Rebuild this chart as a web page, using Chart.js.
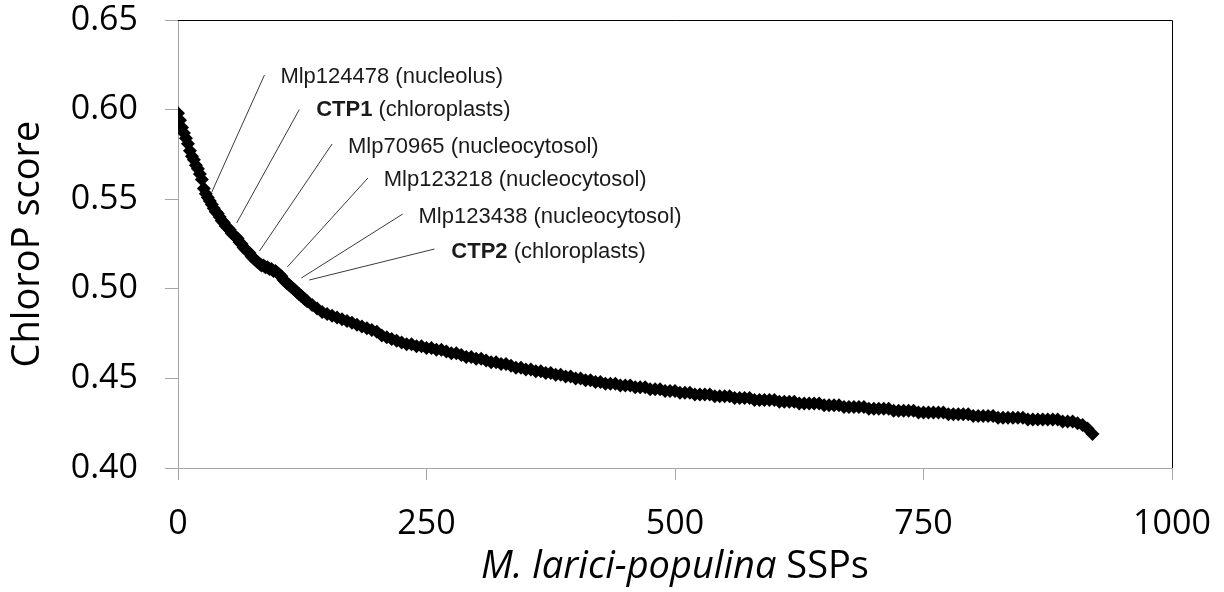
<!DOCTYPE html>
<html lang="en">
<head>
  <meta charset="UTF-8">
  <title>ChloroP score</title>
  <script src="https://cdn.jsdelivr.net/npm/chart.js"></script>
  <style>
    html, body { margin: 0; padding: 0; background: #fff; }
  </style>
</head>
<body>
  <canvas id="scoreChart" width="1224" height="592"></canvas>

  <script>
    // the steep head of the curve is read every 2 ranks, the rest every 5 ranks
    const earlyStep = 2;
    const earlyScores = [
      0.598, 0.594, 0.590, 0.587, 0.584, 0.581, 0.577, 0.574, 0.572, 0.569, 0.567, 0.564, 0.561, 0.556, 0.553, 0.551, 0.549, 0.547, 0.545, 0.543,
      0.542, 0.540, 0.538, 0.537, 0.535, 0.534, 0.533, 0.531, 0.530, 0.529, 0.528, 0.526, 0.525, 0.523, 0.522, 0.521, 0.520, 0.518, 0.517, 0.516,
      0.515, 0.514, 0.513, 0.513, 0.512, 0.512, 0.511, 0.511, 0.510, 0.510, 0.509, 0.508, 0.507, 0.505, 0.504, 0.503, 0.502, 0.501, 0.500, 0.499,
      0.498, 0.497, 0.496, 0.495, 0.494, 0.493
    ];
    const laterStart = 135;
    const laterStep = 5;
    const laterScores = [
      0.491, 0.489, 0.487, 0.486, 0.485, 0.484, 0.483, 0.482, 0.481, 0.480, 0.479, 0.478, 0.477,
      0.476, 0.474, 0.473, 0.472, 0.471, 0.470, 0.469, 0.469, 0.468, 0.468, 0.467, 0.467, 0.466, 0.466, 0.465, 0.464, 0.464, 0.463, 0.462, 0.462,
      0.461, 0.461, 0.460, 0.459, 0.459, 0.458, 0.458, 0.457, 0.456, 0.456, 0.455, 0.455, 0.454, 0.454, 0.453, 0.453, 0.452, 0.452, 0.451, 0.451,
      0.450, 0.450, 0.449, 0.449, 0.448, 0.448, 0.447, 0.447, 0.447, 0.446, 0.446, 0.446, 0.445, 0.445, 0.445, 0.444, 0.444, 0.444, 0.443, 0.443,
      0.443, 0.442, 0.442, 0.442, 0.441, 0.441, 0.441, 0.441, 0.440, 0.440, 0.440, 0.440, 0.439, 0.439, 0.439, 0.439, 0.438, 0.438, 0.438, 0.438,
      0.438, 0.437, 0.437, 0.437, 0.437, 0.436, 0.436, 0.436, 0.436, 0.436, 0.435, 0.435, 0.435, 0.435, 0.434, 0.434, 0.434, 0.434, 0.434, 0.433,
      0.433, 0.433, 0.433, 0.433, 0.432, 0.432, 0.432, 0.432, 0.432, 0.431, 0.431, 0.431, 0.431, 0.431, 0.431, 0.430, 0.430, 0.430, 0.430, 0.430,
      0.429, 0.429, 0.429, 0.429, 0.429, 0.428, 0.428, 0.428, 0.428, 0.428, 0.428, 0.427, 0.427, 0.427, 0.427, 0.427, 0.427, 0.427, 0.426, 0.426,
      0.426, 0.425, 0.424, 0.422, 0.419
    ];

    const xTitleItalic = 'M. larici-populina';
    const xTitleRest = ' SSPs';
    const yTitle = 'ChloroP score';

    // callout labels: bold name, plain location
    const calloutNames = ['Mlp124478', 'CTP1', 'Mlp70965', 'Mlp123218', 'Mlp123438', 'CTP2'];
    const calloutBold = [false, true, false, false, false, true];
    const calloutLocs = ['(nucleolus)', '(chloroplasts)', '(nucleocytosol)', '(nucleocytosol)', '(nucleocytosol)', '(chloroplasts)'];
    // where each leader line touches the curve, where it ends, and where text starts (data units)
    const calloutPos = [
      { at: [34, 0.554],  end: [87, 0.6193],  text: [103, 0.6182] },
      { at: [59, 0.5367], end: [122, 0.600],  text: [139, 0.600] },
      { at: [82, 0.5211], end: [155, 0.5808], text: [171, 0.5791] },
      { at: [110, 0.5122], end: [191, 0.5618], text: [207, 0.5607] },
      { at: [124, 0.506], end: [226, 0.5417], text: [242, 0.5401] },
      { at: [132, 0.5049], end: [258, 0.5222], text: [275, 0.5205] }
    ];

    const points = earlyScores.map((s, i) => ({ x: i * earlyStep, y: s }))
      .concat(laterScores.map((s, i) => ({ x: laterStart + i * laterStep, y: s })));

    const axisGray = '#a6a6a6';
    const tickFont = { family: 'Open Sans', size: 34, lineHeight: 1 };

    const framePlugin = {
      id: 'frame',
      beforeDatasetsDraw(chart) {
        const { ctx, chartArea: a } = chart;
        ctx.save();
        ctx.strokeStyle = '#000';
        ctx.lineWidth = 1;
        ctx.beginPath();
        ctx.moveTo(a.left, a.top + 0.5);
        ctx.lineTo(a.right + 0.5, a.top + 0.5);
        ctx.lineTo(a.right + 0.5, a.bottom);
        ctx.stroke();
        ctx.restore();
      }
    };

    const calloutPlugin = {
      id: 'callouts',
      afterDatasetsDraw(chart) {
        const { ctx, scales: { x, y } } = chart;
        ctx.save();
        ctx.strokeStyle = '#3a3a3a';
        ctx.lineWidth = 1;
        ctx.textBaseline = 'middle';
        ctx.fillStyle = '#1a1a1a';
        calloutPos.forEach((p, i) => {
          ctx.beginPath();
          ctx.moveTo(x.getPixelForValue(p.at[0]), y.getPixelForValue(p.at[1]));
          ctx.lineTo(x.getPixelForValue(p.end[0]), y.getPixelForValue(p.end[1]));
          ctx.stroke();
          let tx = x.getPixelForValue(p.text[0]);
          const ty = y.getPixelForValue(p.text[1]);
          ctx.font = (calloutBold[i] ? 'bold ' : '') + '22px "Liberation Sans", Arial, sans-serif';
          ctx.fillText(calloutNames[i], tx, ty);
          tx += ctx.measureText(calloutNames[i]).width;
          ctx.font = '22px "Liberation Sans", Arial, sans-serif';
          ctx.fillText(' ' + calloutLocs[i], tx, ty);
        });
        ctx.restore();
      }
    };

    const xTitlePlugin = {
      id: 'xTitle',
      afterDraw(chart) {
        const { ctx, chartArea: a } = chart;
        ctx.save();
        ctx.fillStyle = '#000';
        ctx.textBaseline = 'middle';
        const italic = 'italic 38px "Open Sans"';
        const plain = '38px "Open Sans"';
        ctx.font = italic;
        const w1 = ctx.measureText(xTitleItalic).width;
        ctx.font = plain;
        const w2 = ctx.measureText(xTitleRest).width;
        let tx = (a.left + a.right) / 2 - (w1 + w2) / 2;
        const ty = 567;
        ctx.font = italic;
        ctx.fillText(xTitleItalic, tx, ty);
        ctx.font = plain;
        ctx.fillText(xTitleRest, tx + w1, ty);
        ctx.restore();
      }
    };

    const ctx = document.getElementById('scoreChart').getContext('2d');
    const chart = new Chart(ctx, {
      type: 'scatter',
      data: {
        datasets: [{
          data: points,
          pointStyle: 'rectRot',
          pointRadius: 7,
          pointBackgroundColor: '#000',
          pointBorderColor: '#000',
          pointBorderWidth: 0,
          showLine: false
        }]
      },
      options: {
        responsive: false,
        devicePixelRatio: 1,
        animation: false,
        layout: { padding: { top: 20, right: 52, left: 0, bottom: 0 } },
        plugins: {
          legend: { display: false },
          tooltip: { enabled: false }
        },
        scales: {
          x: {
            type: 'linear',
            min: 0,
            max: 1000,
            afterFit(scale) {
              scale.height = 124;
              scale.paddingLeft = 0;
              scale.paddingRight = 0;
            },
            ticks: { stepSize: 250, color: '#000', font: tickFont, padding: 27, maxRotation: 0, callback: v => String(v) },
            grid: { drawOnChartArea: false, drawTicks: true, tickLength: 12, color: axisGray },
            border: { color: axisGray, width: 1 }
          },
          y: {
            min: 0.40,
            max: 0.65,
            afterFit(scale) {
              scale.width = 178;
              scale.paddingTop = 0;
              scale.paddingBottom = 0;
            },
            ticks: {
              stepSize: 0.05,
              color: '#000',
              font: tickFont,
              padding: 27,
              callback: v => v.toFixed(2)
            },
            grid: { drawOnChartArea: false, drawTicks: true, tickLength: 13, color: axisGray },
            border: { color: axisGray, width: 1 },
            title: {
              display: true,
              text: yTitle,
              color: '#000',
              font: { family: 'Open Sans', size: 38 },
              padding: { top: 5, bottom: 0 }
            }
          }
        }
      },
      plugins: [framePlugin, calloutPlugin, xTitlePlugin]
    });
  </script>
</body>
</html>
